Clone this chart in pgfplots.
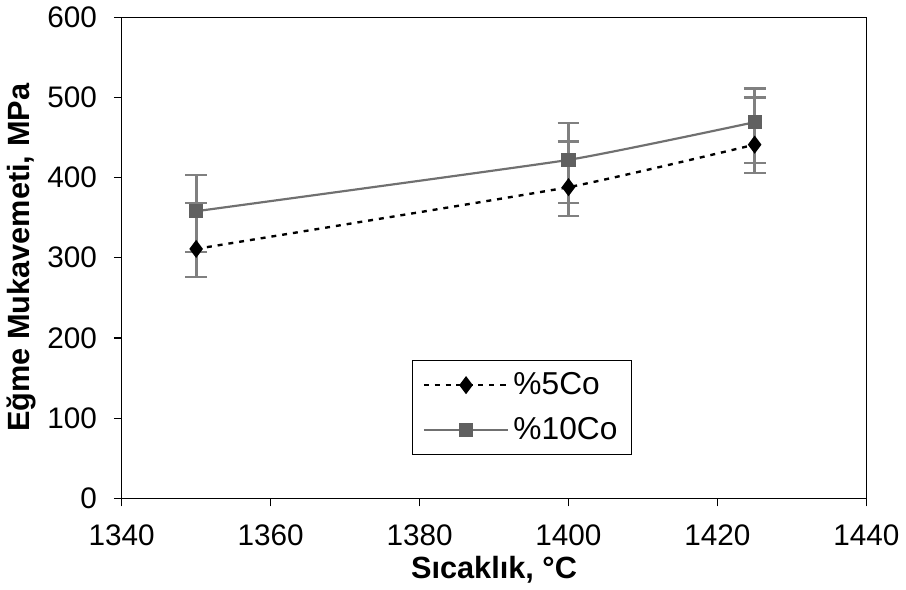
\documentclass[border=0pt]{standalone}
\usepackage{pgfplots}
\pgfplotsset{compat=1.18}
\usepackage{pgfplotstable}
\usepackage{fontspec}
\setmainfont{Liberation Sans}

\definecolor{bargray}{RGB}{128,128,128}
\definecolor{linegray}{RGB}{112,112,112}
\definecolor{markgray}{RGB}{96,96,96}

% sicaklik, deger, hata (+), hata (-)
\pgfplotstableread{
x    y    ep  em
1350 311  57  35
1400 388  57  36
1425 441  59  35
}\cofive
\pgfplotstableread{
x    y    ep  em
1350 358  45  51
1400 422  46  54
1425 469  42  51
}\coten

\begin{document}
\begin{tikzpicture}
\begin{axis}[
    scale only axis,
    width=376pt, height=243pt,
    xmin=1340, xmax=1440, ymin=0, ymax=600,
    xtick={1340,1360,...,1440},
    ytick={0,100,...,600},
    tick pos=left,
    tick align=outside,
    major tick length=4pt,
    tick style={black, line width=0.6pt},
    axis line style={line width=0.6pt},
    /pgf/number format/assume math mode=true,
    /pgf/number format/set thousands separator={},
    ticklabel style={font=\fontsize{15}{17}\selectfont},
    xticklabel style={yshift=-6pt},
    yticklabel style={xshift=-5pt},
    xlabel={\textbf{Sıcaklık, °C}},
    ylabel={\textbf{Eğme Mukavemeti, MPa}},
    label style={font=\fontsize{15.5}{17}\selectfont},
    xlabel style={yshift=2pt},
    ylabel style={yshift=-1pt},
    legend style={at={(0.39,0.09)}, anchor=south west, draw=black,
        font=\fontsize{16}{18}\selectfont, inner xsep=5pt, inner ysep=4pt,
        row sep=6pt, line width=0.6pt},
    legend cell align=left,
    legend image code/.code={\draw[mark repeat=2,mark phase=2,#1]
        plot coordinates {(0cm,0cm) (0.75cm,0cm) (1.5cm,0cm)};},
    error bars/error bar style={bargray, line width=1.6pt, solid},
    error bars/error mark options={rotate=90, bargray, mark size=5.5pt, line width=1.2pt, solid},
]
\addplot[black, line width=1.2pt, dash pattern=on 2.5pt off 3pt, smooth, tension=0.25,
    mark=diamond*, mark size=3.6pt, mark options={solid, fill=black},
    error bars/.cd, y dir=both, y explicit]
    table[x=x, y=y, y error plus=ep, y error minus=em] {\cofive};
\addlegendentry{\%5Co}
\addplot[linegray, line width=1.1pt, smooth, tension=0.25,
    mark=square*, mark size=3pt, mark options={solid, fill=markgray, draw=markgray},
    error bars/.cd, y dir=both, y explicit]
    table[x=x, y=y, y error plus=ep, y error minus=em] {\coten};
\addlegendentry{\%10Co}
\end{axis}
\end{tikzpicture}
\end{document}
